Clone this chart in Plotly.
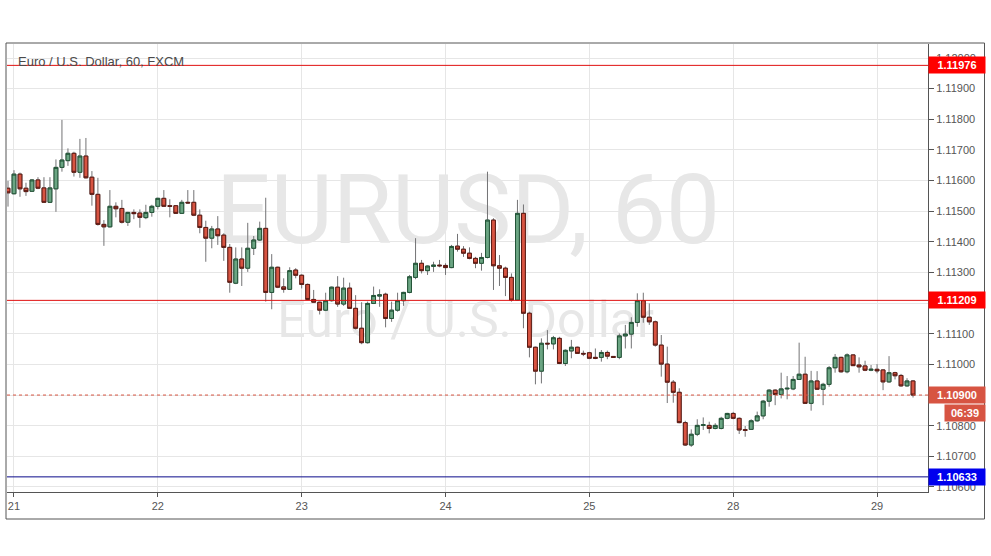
import plotly.graph_objects as go

# ---------------- data (EUR/USD, 60 min) ----------------
day_labels = ['21', '22', '23', '24', '25', '28', '29']
day_start_bar = [1, 25, 49, 73, 97, 121, 145]

opens = [1.11575, 1.11557, 1.11621, 1.11575, 1.11565, 1.11602, 1.11576, 1.11529, 1.11573, 1.11643,
         1.11665, 1.11689, 1.11627, 1.11680, 1.11611, 1.11555, 1.11457, 1.11449, 1.11516, 1.11509,
         1.11464, 1.11496, 1.11494, 1.11479, 1.11496, 1.11516, 1.11542, 1.11518, 1.11518, 1.11493,
         1.11529, 1.11529, 1.11487, 1.11447, 1.11412, 1.11442, 1.11422, 1.11382, 1.11265, 1.11344,
         1.11314, 1.11379, 1.11406, 1.11444, 1.11235, 1.11317, 1.11253, 1.11245, 1.11308, 1.11291,
         1.11261, 1.11212, 1.11203, 1.11177, 1.11208, 1.11252, 1.11197, 1.11249, 1.11183, 1.11118,
         1.11071, 1.11199, 1.11223, 1.11229, 1.11150, 1.11177, 1.11208, 1.11235, 1.11284, 1.11330,
         1.11306, 1.11320, 1.11324, 1.11323, 1.11316, 1.11386, 1.11376, 1.11363, 1.11346, 1.11330,
         1.11349, 1.11471, 1.11322, 1.11314, 1.11284, 1.11210, 1.11493, 1.11167, 1.11056, 1.10978,
         1.11069, 1.11067, 1.11085, 1.11003, 1.11044, 1.11056, 1.11036, 1.11038, 1.11023, 1.11023,
         1.11039, 1.11026, 1.11023, 1.11093, 1.11099, 1.11137, 1.11208, 1.11154, 1.11139, 1.11063,
         1.11001, 1.10942, 1.10909, 1.10810, 1.10737, 1.10772, 1.10801, 1.10801, 1.10791, 1.10791,
         1.10824, 1.10840, 1.10824, 1.10787, 1.10788, 1.10816, 1.10832, 1.10880, 1.10916, 1.10902,
         1.10920, 1.10920, 1.10951, 1.10968, 1.10873, 1.10946, 1.10919, 1.10935, 1.10989, 1.11023,
         1.10976, 1.11031, 1.10998, 1.10995, 1.10981, 1.10984, 1.10982, 1.10943, 1.10973, 1.10964,
         1.10930, 1.10946]
highs = [1.11599, 1.11634, 1.11626, 1.11593, 1.11605, 1.11611, 1.11611, 1.11611, 1.11669, 1.11798,
         1.11705, 1.11694, 1.11736, 1.11739, 1.11631, 1.11609, 1.11471, 1.11569, 1.11529, 1.11537,
         1.11498, 1.11506, 1.11506, 1.11521, 1.11521, 1.11544, 1.11569, 1.11539, 1.11520, 1.11537,
         1.11569, 1.11569, 1.11506, 1.11469, 1.11452, 1.11484, 1.11428, 1.11393, 1.11382, 1.11382,
         1.11462, 1.11419, 1.11466, 1.11544, 1.11360, 1.11319, 1.11281, 1.11317, 1.11314, 1.11294,
         1.11264, 1.11243, 1.11205, 1.11234, 1.11254, 1.11288, 1.11283, 1.11267, 1.11226, 1.11203,
         1.11205, 1.11254, 1.11245, 1.11234, 1.11205, 1.11234, 1.11237, 1.11292, 1.11412, 1.11341,
         1.11323, 1.11335, 1.11341, 1.11330, 1.11390, 1.11426, 1.11386, 1.11382, 1.11351, 1.11364,
         1.11629, 1.11477, 1.11357, 1.11319, 1.11297, 1.11537, 1.11522, 1.11172, 1.11058, 1.11085,
         1.11112, 1.11093, 1.11090, 1.11049, 1.11080, 1.11058, 1.11045, 1.11041, 1.11052, 1.11047,
         1.11045, 1.11027, 1.11101, 1.11129, 1.11154, 1.11232, 1.11234, 1.11199, 1.11143, 1.11096,
         1.11058, 1.10949, 1.10922, 1.10816, 1.10788, 1.10821, 1.10827, 1.10813, 1.10808, 1.10829,
         1.10842, 1.10845, 1.10827, 1.10799, 1.10821, 1.10846, 1.10884, 1.10919, 1.10919, 1.10973,
         1.10962, 1.10962, 1.11071, 1.11025, 1.10979, 1.10978, 1.10940, 1.10995, 1.11034, 1.11025,
         1.11036, 1.11033, 1.11023, 1.11012, 1.10998, 1.11001, 1.10984, 1.11027, 1.10976, 1.10969,
         1.10955, 1.10949]
lows = [1.11515, 1.11555, 1.11547, 1.11550, 1.11563, 1.11572, 1.11528, 1.11528, 1.11498, 1.11629,
        1.11648, 1.11613, 1.11609, 1.11607, 1.11518, 1.11453, 1.11387, 1.11447, 1.11480, 1.11460,
        1.11452, 1.11474, 1.11446, 1.11474, 1.11482, 1.11506, 1.11515, 1.11480, 1.11491, 1.11491,
        1.11526, 1.11484, 1.11428, 1.11335, 1.11379, 1.11390, 1.11338, 1.11234, 1.11262, 1.11256,
        1.11302, 1.11357, 1.11403, 1.11205, 1.11180, 1.11249, 1.11234, 1.11243, 1.11281, 1.11248,
        1.11210, 1.11201, 1.11163, 1.11174, 1.11205, 1.11188, 1.11191, 1.11182, 1.11114, 1.11066,
        1.11068, 1.11197, 1.11188, 1.11121, 1.11139, 1.11172, 1.11191, 1.11232, 1.11278, 1.11297,
        1.11292, 1.11302, 1.11317, 1.11292, 1.11314, 1.11368, 1.11351, 1.11343, 1.11314, 1.11306,
        1.11346, 1.11243, 1.11256, 1.11223, 1.11205, 1.11208, 1.11118, 1.11023, 1.10935, 1.10938,
        1.11049, 1.11049, 1.11001, 1.10995, 1.11020, 1.11034, 1.11027, 1.11017, 1.11017, 1.11009,
        1.11017, 1.11021, 1.11017, 1.11052, 1.11052, 1.11123, 1.11136, 1.11129, 1.11058, 1.10960,
        1.10874, 1.10875, 1.10808, 1.10734, 1.10731, 1.10766, 1.10786, 1.10775, 1.10788, 1.10788,
        1.10821, 1.10821, 1.10773, 1.10764, 1.10786, 1.10813, 1.10821, 1.10862, 1.10867, 1.10889,
        1.10886, 1.10916, 1.10949, 1.10871, 1.10849, 1.10917, 1.10867, 1.10927, 1.10973, 1.10973,
        1.10971, 1.10995, 1.10973, 1.10978, 1.10978, 1.10971, 1.10916, 1.10940, 1.10951, 1.10927,
        1.10927, 1.10892]
closes = [1.11560, 1.11621, 1.11573, 1.11564, 1.11602, 1.11575, 1.11529, 1.11576, 1.11643, 1.11667,
          1.11689, 1.11627, 1.11680, 1.11609, 1.11555, 1.11457, 1.11449, 1.11516, 1.11508, 1.11464,
          1.11496, 1.11492, 1.11480, 1.11496, 1.11516, 1.11542, 1.11516, 1.11516, 1.11493, 1.11529,
          1.11527, 1.11487, 1.11447, 1.11412, 1.11442, 1.11420, 1.11382, 1.11268, 1.11344, 1.11314,
          1.11379, 1.11406, 1.11444, 1.11235, 1.11317, 1.11252, 1.11245, 1.11306, 1.11291, 1.11261,
          1.11212, 1.11203, 1.11177, 1.11208, 1.11252, 1.11197, 1.11249, 1.11183, 1.11118, 1.11071,
          1.11199, 1.11225, 1.11227, 1.11150, 1.11177, 1.11208, 1.11235, 1.11286, 1.11330, 1.11306,
          1.11321, 1.11324, 1.11322, 1.11316, 1.11385, 1.11376, 1.11363, 1.11346, 1.11330, 1.11349,
          1.11471, 1.11322, 1.11314, 1.11284, 1.11210, 1.11493, 1.11167, 1.11056, 1.10978, 1.11069,
          1.11067, 1.11087, 1.11003, 1.11046, 1.11056, 1.11036, 1.11034, 1.11020, 1.11020, 1.11039,
          1.11027, 1.11023, 1.11093, 1.11099, 1.11137, 1.11208, 1.11154, 1.11139, 1.11063, 1.11001,
          1.10942, 1.10909, 1.10810, 1.10737, 1.10772, 1.10801, 1.10803, 1.10791, 1.10801, 1.10824,
          1.10840, 1.10824, 1.10786, 1.10785, 1.10816, 1.10832, 1.10880, 1.10916, 1.10902, 1.10920,
          1.10922, 1.10951, 1.10968, 1.10873, 1.10946, 1.10919, 1.10935, 1.10989, 1.11023, 1.10976,
          1.11031, 1.10996, 1.10992, 1.10981, 1.10984, 1.10979, 1.10943, 1.10973, 1.10963, 1.10930,
          1.10946, 1.10900]

resistance_top = 1.11976
resistance_mid = 1.11209
support_low = 1.10633
last_price = 1.10900
countdown = '06:39'
price_ticks = [1.106, 1.107, 1.108, 1.109, 1.110, 1.111, 1.112, 1.113, 1.114,
               1.115, 1.116, 1.117, 1.118, 1.119, 1.120]
# 1.11200 sits completely behind the 1.11209 tag in the reference
price_tick_text = ['1.10600', '1.10700', '1.10800', '1.10900', '1.11000', '1.11100', '',
                   '1.11300', '1.11400', '1.11500', '1.11600', '1.11700', '1.11800',
                   '1.11900', '1.12000']
title_text = 'Euro / U.S. Dollar, 60, FXCM'
watermark_big = 'EURUSD, 60'
watermark_small = 'Euro / U.S. Dollar'

# ---------------- styling ----------------
UP = '#6ba583'
DOWN = '#d75442'
UP_BORDER = '#225437'
DOWN_BORDER = '#5b1a13'
WICK = '#737375'
GRID = '#e6e6e6'
AXIS = '#555555'
TXT = '#555555'
FONT = 'Liberation Sans'

bars = list(range(len(opens)))
body_top = [max(o, c) for o, c in zip(opens, closes)]
body_bot = [min(o, c) for o, c in zip(opens, closes)]

fig = go.Figure()

# watermark (base axes, drawn beneath the candles)
fig.add_trace(go.Scatter(x=[0.5005], y=[0.609], mode='text', text=[watermark_big],
                         textposition='middle center',
                         textfont=dict(family='Roboto', size=96, color='#e7e7e7'),
                         hoverinfo='skip', showlegend=False, xaxis='x', yaxis='y'))
fig.add_trace(go.Scatter(x=[0.498], y=[0.373], mode='text', text=[watermark_small],
                         textposition='middle center',
                         textfont=dict(family='Roboto', size=50, color='#e7e7e7'),
                         hoverinfo='skip', showlegend=False, xaxis='x', yaxis='y'))

# candles: wicks first, then bodies with dark borders
fig.add_trace(go.Candlestick(x=bars, open=opens, high=highs, low=lows, close=closes,
                             xaxis='x2', yaxis='y2',
                             increasing=dict(line=dict(color=WICK, width=1), fillcolor=UP),
                             decreasing=dict(line=dict(color=WICK, width=1), fillcolor=DOWN),
                             hoverinfo='skip', showlegend=False))
fig.add_trace(go.Candlestick(x=bars, open=opens, high=body_top, low=body_bot, close=closes,
                             xaxis='x2', yaxis='y2',
                             increasing=dict(line=dict(color=UP_BORDER, width=1), fillcolor=UP),
                             decreasing=dict(line=dict(color=DOWN_BORDER, width=1), fillcolor=DOWN),
                             hoverinfo='skip', showlegend=False))

shapes = []
for lvl, col in [(resistance_top, '#e01010'), (resistance_mid, '#e01010'), (support_low, '#0a0a8a')]:
    shapes.append(dict(type='line', xref='paper', yref='y2', x0=0, x1=1, y0=lvl, y1=lvl,
                       line=dict(color=col, width=1)))
shapes.append(dict(type='line', xref='paper', yref='y2', x0=0, x1=1, y0=last_price, y1=last_price,
                   line=dict(color=DOWN, width=1, dash='dot')))

# outer frame
fx0, fx1 = -1 / 921, 977.5 / 921
fy0, fy1 = -27 / 448, 449 / 448
for (x0, y0, x1, y1) in [(fx0, fy1, fx1, fy1), (fx0, fy0, fx1, fy0), (fx0, fy0, fx0, fy1), (fx1, fy0, fx1, fy1)]:
    shapes.append(dict(type='line', xref='paper', yref='paper', x0=x0, y0=y0, x1=x1, y1=y1,
                       line=dict(color=AXIS, width=1)))

annotations = [
    dict(xref='paper', yref='paper', x=0.0094, y=0.962, xanchor='left', yanchor='middle',
         text=title_text, showarrow=False, font=dict(family=FONT, size=13, color='#4a4a4a')),
]
for lvl, bg in [(resistance_top, '#ff0000'), (resistance_mid, '#ff0000'), (support_low, '#0000ee'), (last_price, DOWN)]:
    annotations.append(dict(xref='paper', yref='y2', x=1, y=lvl, xanchor='left', yanchor='middle',
                            text='<b>%.5f</b>' % lvl, showarrow=False, bgcolor=bg,
                            width=52, height=12, borderpad=2, align='center',
                            font=dict(family=FONT, size=11, color='white')))
annotations.append(dict(xref='paper', yref='y2', x=937 / 921, y=last_price, xanchor='left', yanchor='middle',
                        yshift=-18, text='<b>%s</b>' % countdown, showarrow=False, bgcolor=DOWN,
                        width=36, height=12, borderpad=2, align='center',
                        font=dict(family=FONT, size=11, color='white')))

fig.update_layout(
    width=991, height=556,
    margin=dict(l=7, r=63, t=44, b=64),
    paper_bgcolor='white', plot_bgcolor='white',
    showlegend=False, boxgap=0.2, boxgroupgap=0.2,
    xaxis=dict(domain=[0, 1], range=[0, 1], visible=False, fixedrange=True),
    yaxis=dict(domain=[0, 1], range=[0, 1], visible=False, fixedrange=True),
    xaxis2=dict(overlaying='x', anchor='y2', range=[-0.167, 153.5],
                tickvals=day_start_bar, ticktext=day_labels,
                showgrid=True, gridcolor=GRID, gridwidth=1, zeroline=False,
                showline=True, linecolor=AXIS, linewidth=1,
                ticks='outside', ticklen=4, tickcolor=AXIS,
                tickfont=dict(family=FONT, size=11, color=TXT),
                rangeslider=dict(visible=False), fixedrange=True),
    yaxis2=dict(overlaying='y', anchor='x2', side='right',
                range=[1.105836, 1.120457], tickvals=price_ticks, ticktext=price_tick_text,
                showgrid=True, gridcolor=GRID, gridwidth=1, zeroline=False,
                showline=True, linecolor=AXIS, linewidth=1,
                ticks='outside', ticklen=5, tickcolor=AXIS,
                tickfont=dict(family=FONT, size=11, color=TXT), fixedrange=True),
    shapes=shapes,
    annotations=annotations,
)

fig.write_html("out.html", config={'displayModeBar': False},
               post_script="document.body.style.margin='0px';document.body.style.overflow='hidden';")
